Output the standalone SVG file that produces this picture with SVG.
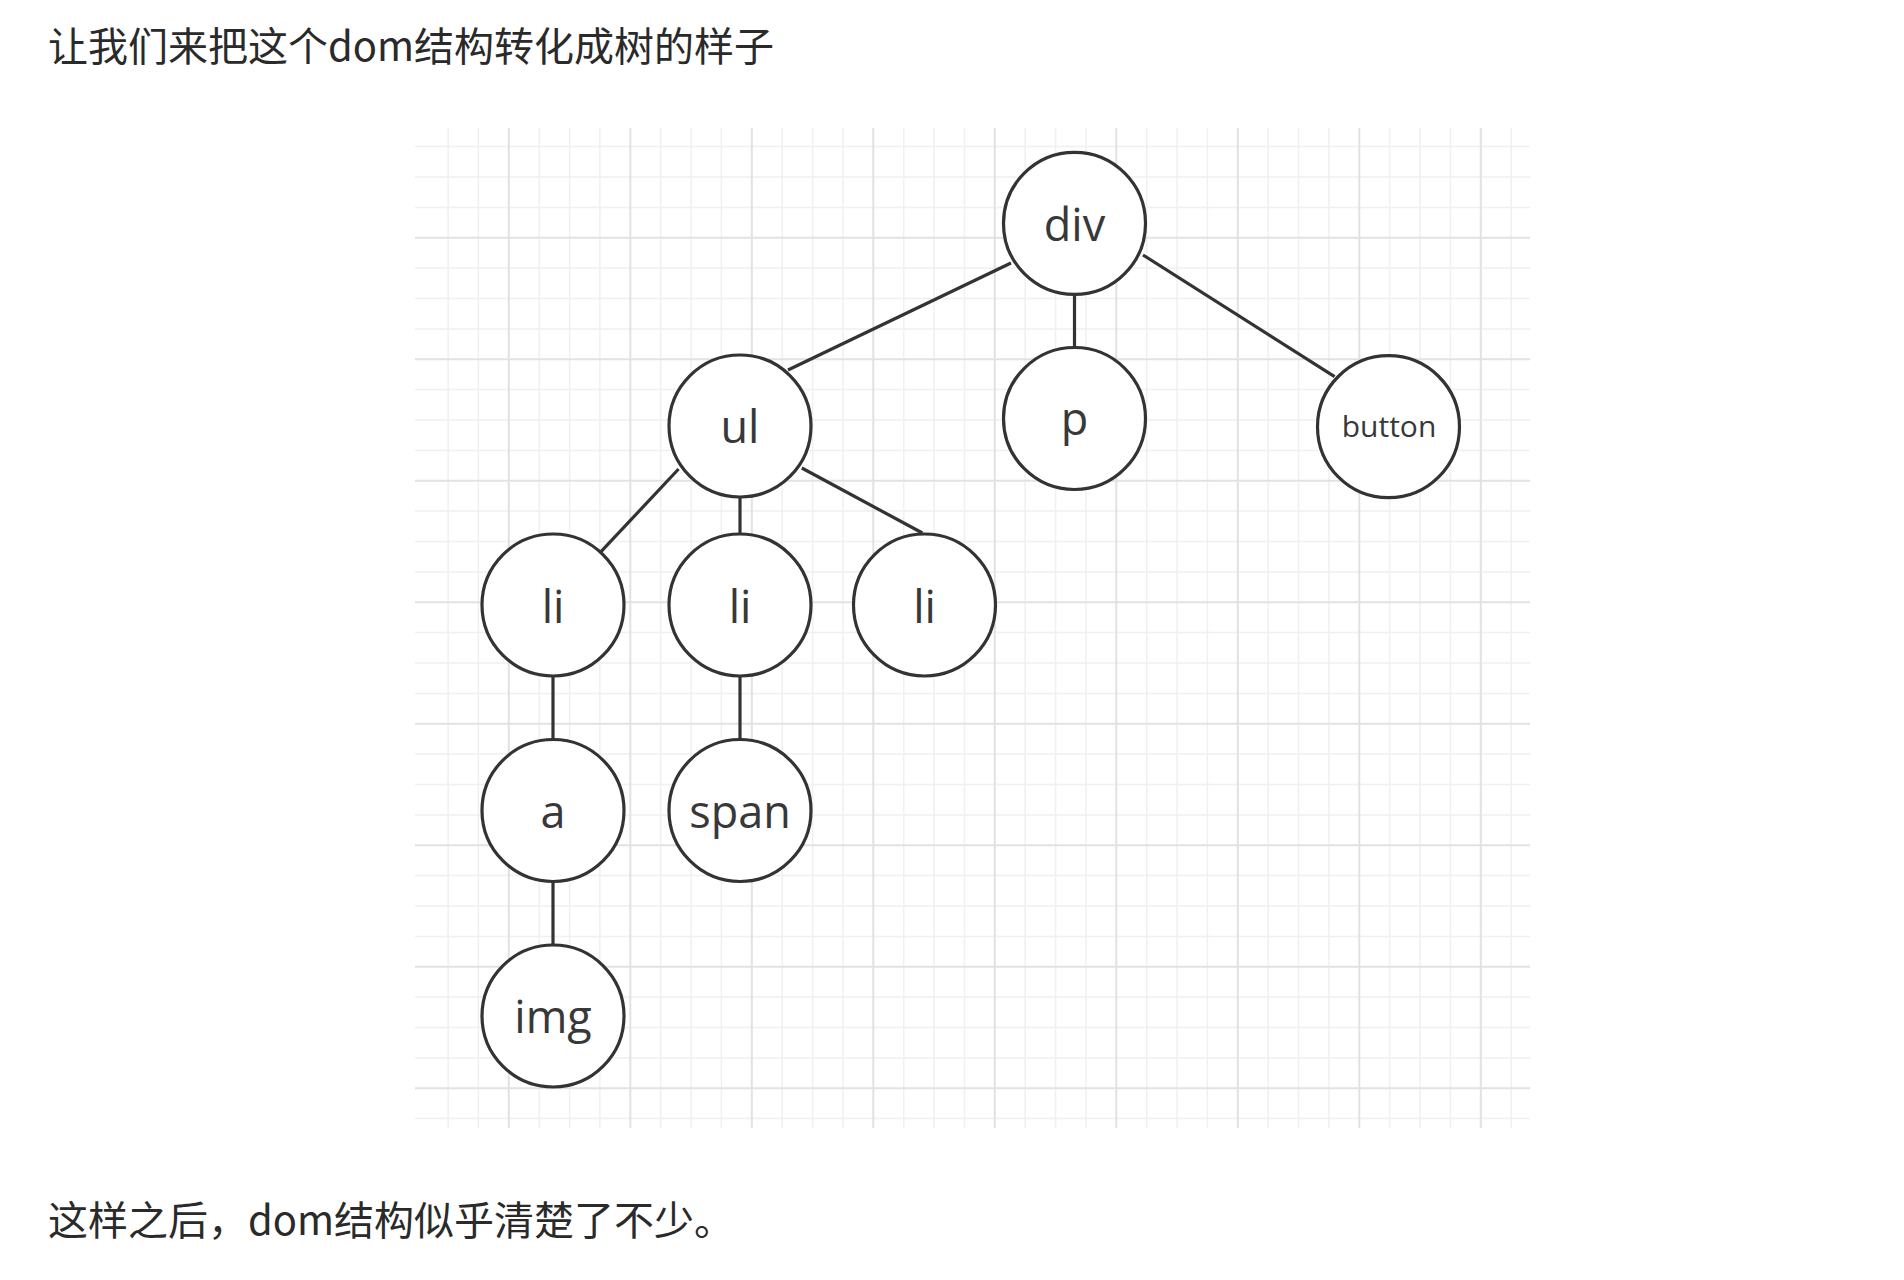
<svg xmlns="http://www.w3.org/2000/svg" width="1904" height="1280" viewBox="0 0 1904 1280">
<style>
.bg{fill:#ffffff}
.minor{stroke:#f0f0f0;stroke-width:1.5;fill:none}
.major{stroke:#e2e2e2;stroke-width:2;fill:none}
.node circle{fill:#ffffff;stroke:#333333;stroke-width:3.2}
.node text{font-family:"Open Sans","Noto Sans",sans-serif;font-size:45px;fill:#383838;text-anchor:middle}
.node text.small{font-size:30px}
.edge{stroke:#333333;stroke-width:3.2;fill:none}
.para{font-family:"Noto Sans CJK SC","Noto Sans",sans-serif;font-size:40px;fill:#2a2a2a}
</style>
<rect class="bg" x="0" y="0" width="1904" height="1280"/>
<text class="para" x="48" y="61">让我们来把这个dom结构转化成树的样子</text>
<g id="grid">
<rect x="415" y="128" width="1115" height="1000" fill="#ffffff"/>
<path class="minor" d="M448.1 128V1128M478.4 128V1128M539.2 128V1128M569.6 128V1128M599.9 128V1128M660.7 128V1128M691.1 128V1128M721.4 128V1128M782.2 128V1128M812.6 128V1128M842.9 128V1128M903.7 128V1128M934.1 128V1128M964.4 128V1128M1025.2 128V1128M1055.6 128V1128M1085.9 128V1128M1146.7 128V1128M1177.1 128V1128M1207.4 128V1128M1268.2 128V1128M1298.6 128V1128M1328.9 128V1128M1389.7 128V1128M1420.1 128V1128M1450.4 128V1128M1511.2 128V1128
M415 146.6H1530M415 177H1530M415 207.4H1530M415 268.1H1530M415 298.5H1530M415 328.9H1530M415 389.6H1530M415 420H1530M415 450.4H1530M415 511.1H1530M415 541.5H1530M415 571.9H1530M415 632.6H1530M415 663H1530M415 693.4H1530M415 754.1H1530M415 784.5H1530M415 814.9H1530M415 875.6H1530M415 906H1530M415 936.4H1530M415 997.1H1530M415 1027.5H1530M415 1057.9H1530M415 1118.6H1530"/>
<path class="major" d="M508.8 128V1128M630.3 128V1128M751.8 128V1128M873.3 128V1128M994.8 128V1128M1116.3 128V1128M1237.8 128V1128M1359.3 128V1128M1480.8 128V1128
M415 237.7H1530M415 359.2H1530M415 480.7H1530M415 602.2H1530M415 723.7H1530M415 845.2H1530M415 966.7H1530M415 1088.2H1530"/>
</g>
<g id="connectors">
<line class="edge" x1="1011" y1="263" x2="788" y2="370"/>
<line class="edge" x1="1074.5" y1="295" x2="1074.5" y2="347"/>
<line class="edge" x1="1143" y1="255" x2="1334.6" y2="376.7"/>
<line class="edge" x1="678.6" y1="469" x2="601" y2="551.7"/>
<line class="edge" x1="740" y1="498" x2="740" y2="534"/>
<line class="edge" x1="801.8" y1="468" x2="922.4" y2="533"/>
<line class="edge" x1="553" y1="677" x2="553" y2="739"/>
<line class="edge" x1="740" y1="677" x2="740" y2="739"/>
<line class="edge" x1="553" y1="882" x2="553" y2="944"/>
</g>
<g id="node-div" class="node"><circle cx="1074.5" cy="223.4" r="71"/><text x="1074.5" y="241">div</text></g>
<g id="node-ul" class="node"><circle cx="740" cy="426" r="71"/><text x="740" y="443">ul</text></g>
<g id="node-p" class="node"><circle cx="1074.5" cy="418.5" r="71"/><text x="1074.5" y="435">p</text></g>
<g id="node-button" class="node"><circle cx="1388.5" cy="426.7" r="71"/><text class="small" x="1389" y="437">button</text></g>
<g id="node-li1" class="node"><circle cx="553" cy="605" r="71"/><text x="553" y="623">li</text></g>
<g id="node-li2" class="node"><circle cx="740" cy="605" r="71"/><text x="740" y="623">li</text></g>
<g id="node-li3" class="node"><circle cx="924.5" cy="605" r="71"/><text x="924.5" y="623">li</text></g>
<g id="node-a" class="node"><circle cx="553" cy="810.5" r="71"/><text x="553" y="828">a</text></g>
<g id="node-span" class="node"><circle cx="740" cy="810.5" r="71"/><text x="740" y="828">span</text></g>
<g id="node-img" class="node"><circle cx="553" cy="1016" r="71"/><text x="553" y="1033">img</text></g>
<text class="para" x="48" y="1235">这样之后，dom结构似乎清楚了不少。</text>
</svg>
